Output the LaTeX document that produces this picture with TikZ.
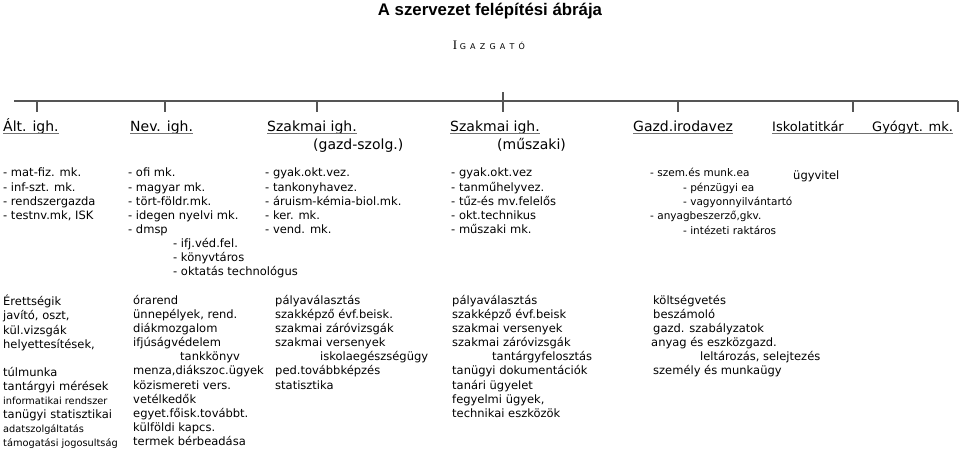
\documentclass[tikz,border=0pt]{standalone}
\usepackage{fontspec}
\setmainfont{DejaVu Sans}
\newfontfamily\titlefont{Liberation Sans}
\newfontfamily\initfont{Liberation Serif}
\usetikzlibrary{positioning}
\definecolor{bar}{HTML}{555555}
\definecolor{uline}{HTML}{707070}

\newcommand{\sm}[1]{{\fontsize{9.8}{14.1}\selectfont #1}}
\newcommand{\ls}{\hspace{4.2pt}}

\begin{document}
\begin{tikzpicture}[x=1pt, y=-1pt,
    title/.style={font=\titlefont\bfseries\fontsize{16.8}{18}\selectfont, inner sep=0pt, anchor=base},
    head/.style={font=\fontsize{14}{16}\selectfont, inner sep=0pt, anchor=base west},
    sec/.style={font=\fontsize{13}{16}\selectfont, inner sep=0pt, anchor=base west},
    task/.style={font=\fontsize{11.5}{14.1}\selectfont, inner sep=0pt, anchor=north west, align=left,
      execute at begin node={\rule{0pt}{11pt}}},
    ftask/.style={task, font=\fontsize{10.5}{14.4}\selectfont},
    uline/.style={draw=uline, line width=1pt},
    bar/.style={draw=bar, line width=1.3pt}]

  \useasboundingbox (0,0) rectangle (960,450);

  \node[title] (ttl) at (490,15) {A szervezet felépítési ábrája};
  \node[inner sep=0pt, anchor=base] (ig) at (489,49)
    {{\initfont\fontsize{13}{13}\selectfont I}\hspace{2.5pt}{\fontsize{8}{8}\selectfont G\ls A\ls Z\ls G\ls A\ls T\ls Ó}};

  % vonal
  \coordinate (barL) at (14,101);
  \coordinate (barR) at (958,101);
  \coordinate (igd) at (503,92);
  \draw[bar] (barL) -- (barR);
  \foreach \x [count=\i] in {37,165,317,503,678,853,958} {
    \coordinate (up\i) at (\x,101);
    \coordinate (dn\i) at (\x,112);
    \draw[bar] (up\i) -- (dn\i);
  }
  \draw[bar] (igd) -- (up4);

  % vezetok
  \node[head] (alt) at (3,131) {Ált. igh.};
  \node[head] (nev) at (130,131) {Nev. igh.};
  \node[head] (szg) at (267,131) {Szakmai igh.};
  \node[head] (szm) at (450,131) {Szakmai igh.};
  \node[head] (gaz) at (633,131) {Gazd.irodavez};
  \node[sec] (isk) at (772,131) {Iskolatitkár};
  \node[sec] (gyo) at (872,131) {Gyógyt. mk.};
  \node[head] (szgsub) at (313,149) {(gazd-szolg.)};
  \node[head] (szmsub) at (497,149) {(műszaki)};

  \foreach \n in {alt,nev,szg,szm,gaz}
    \draw[uline] ([yshift=-2pt]\n.base west) -- ([yshift=-2pt]\n.base east);
  \draw[uline] ([yshift=-2pt]isk.base west) -- ([yshift=-2pt]gyo.base east);

  % beosztottak
  \node[task] (l1) at (3,168) {- mat-fiz. mk.\\- inf-szt. mk.\\- rendszergazda\\- testnv.mk, ISK};
  \node[task] (l2) at (128,168) {- ofi mk.\\- magyar mk.\\- tört-földr.mk.\\- idegen nyelvi mk.\\- dmsp\\
    \hspace*{45pt}- ifj.véd.fel.\\\hspace*{45pt}- könyvtáros\\\hspace*{45pt}- oktatás technológus};
  \node[task] (l3) at (265,168) {- gyak.okt.vez.\\- tankonyhavez.\\- áruism-kémia-biol.mk.\\- ker. mk.\\- vend. mk.};
  \node[task] (l4) at (451,168) {- gyak.okt.vez\\- tanműhelyvez.\\- tűz-és mv.felelős\\- okt.technikus\\- műszaki mk.};
  \node[ftask] (l5) at (650,168) {- szem.és munk.ea\\\hspace*{33pt}- pénzügyi ea\\\hspace*{33pt}- vagyonnyilvántartó\\
    - anyagbeszerző,gkv.\\\hspace*{33pt}- intézeti raktáros};
  \node[task] (ugy) at (793,168) {ügyvitel};

  % feladatok
  \node[task] (f1) at (3,295) {Érettségik\\javító, oszt,\\kül.vizsgák\\helyettesítések,\\\mbox{}\\túlmunka\\
    tantárgyi mérések\\\sm{informatikai rendszer}\\tanügyi statisztikai\\\sm{adatszolgáltatás}\\\sm{támogatási jogosultság}};
  \node[task] (f2) at (133,295) {órarend\\ünnepélyek, rend.\\diákmozgalom\\ifjúságvédelem\\\hspace*{47pt}tankkönyv\\
    menza,diákszoc.ügyek\\közismereti vers.\\vetélkedők\\egyet.főisk.továbbt.\\külföldi kapcs.\\termek bérbeadása};
  \node[task] (f3) at (275,295) {pályaválasztás\\szakképző évf.beisk.\\szakmai záróvizsgák\\szakmai versenyek\\
    \hspace*{45pt}iskolaegészségügy\\ped.továbbképzés\\statisztika};
  \node[task] (f4) at (452,295) {pályaválasztás\\szakképző évf.beisk\\szakmai versenyek\\szakmai záróvizsgák\\
    \hspace*{40pt}tantárgyfelosztás\\tanügyi dokumentációk\\tanári ügyelet\\fegyelmi ügyek,\\technikai eszközök};
  \node[task] (f5) at (653,295) {költségvetés\\beszámoló\\gazd. szabályzatok\\\hspace*{-2pt}anyag és eszközgazd.\\
    \hspace*{47pt}leltározás, selejtezés\\személy és munkaügy};
\end{tikzpicture}
\end{document}
